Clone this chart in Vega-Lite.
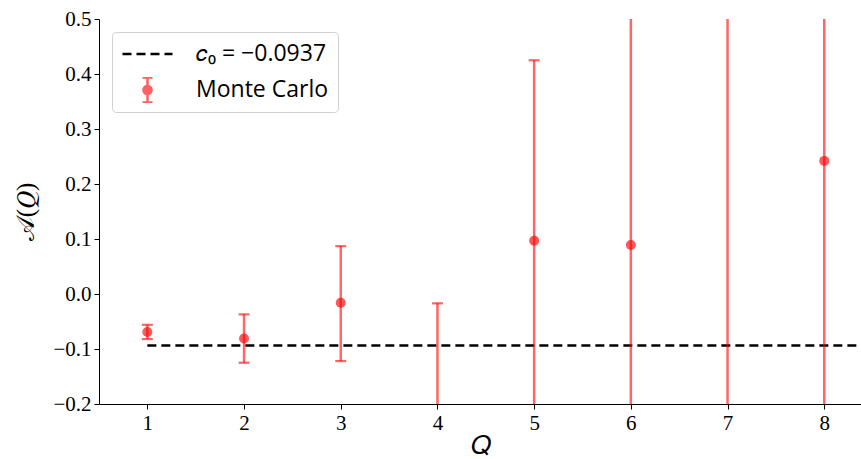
{
  "$schema": "https://vega.github.io/schema/vega-lite/v6.json",
  "width": 762,
  "height": 385,
  "autosize": "none",
  "padding": {"left": 99, "top": 19, "right": 0, "bottom": 55},
  "background": "white",
  "config": {
    "view": {"stroke": null},
    "axis": {
      "grid": false,
      "domainColor": "#000000",
      "domainWidth": 1,
      "tickColor": "#000000",
      "tickSize": 5,
      "tickWidth": 1,
      "labelFont": "Liberation Serif",
      "labelFontSize": 21,
      "labelColor": "#000000",
      "titleFont": "Liberation Serif",
      "titleFontSize": 26,
      "titleFontWeight": "normal",
      "titleColor": "#000000"
    }
  },
  "datasets": {
    "mc": [
      {"Q": 1, "A": -0.069, "lo": -0.082, "hi": -0.056, "series": "Monte Carlo"},
      {"Q": 2, "A": -0.081, "lo": -0.125, "hi": -0.037, "series": "Monte Carlo"},
      {"Q": 3, "A": -0.016, "lo": -0.122, "hi": 0.087, "series": "Monte Carlo"},
      {"Q": 4, "A": -0.25, "lo": -0.483, "hi": -0.017, "series": "Monte Carlo"},
      {"Q": 5, "A": 0.097, "lo": -0.231, "hi": 0.425, "series": "Monte Carlo"},
      {"Q": 6, "A": 0.089, "lo": -0.65, "hi": 0.83, "series": "Monte Carlo"},
      {"Q": 7, "A": 0.6, "lo": -0.4, "hi": 1.6, "series": "Monte Carlo"},
      {"Q": 8, "A": 0.242, "lo": -0.6, "hi": 1.08, "series": "Monte Carlo"}
    ],
    "ref": [{"Q": 1, "Q2": 9, "A": -0.0937, "series": "𝑐₀ = −0.0937"}]
  },
  "layer": [
    {
      "mark": {"type": "rule", "color": "#000000", "strokeWidth": 1},
      "encoding": {"y": {"datum": 0.5, "type": "quantitative"}}
    },
    {
      "data": {"name": "ref"},
      "mark": {"type": "rule", "color": "#000000", "strokeWidth": 2.5, "strokeDash": [9, 5], "clip": true},
      "encoding": {
        "x": {"field": "Q", "type": "quantitative", "scale": {"domain": [0.5, 8.38], "nice": false, "zero": false},
              "axis": {"values": [1, 2, 3, 4, 5, 6, 7, 8], "format": "d", "title": "𝑄", "labelPadding": 3, "titlePadding": -1}},
        "x2": {"field": "Q2"},
        "y": {"field": "A", "type": "quantitative", "scale": {"domain": [-0.2, 0.5], "nice": false, "zero": false},
              "axis": {"values": [-0.2, -0.1, 0, 0.1, 0.2, 0.3, 0.4, 0.5], "format": ".1f", "title": "𝒜(𝑄)", "titleFontSize": 25, "labelPadding": 3, "titlePadding": 14}}
      }
    },
    {
      "data": {"name": "mc"},
      "mark": {"type": "rule", "color": "#ff0000", "opacity": 0.6, "strokeWidth": 2.5, "clip": true},
      "encoding": {
        "x": {"field": "Q", "type": "quantitative"},
        "y": {"field": "lo", "type": "quantitative"},
        "y2": {"field": "hi"}
      }
    },
    {
      "data": {"name": "mc"},
      "mark": {"type": "tick", "orient": "horizontal", "color": "#ff0000", "opacity": 0.6, "size": 11, "thickness": 2.2, "clip": true},
      "encoding": {
        "x": {"field": "Q", "type": "quantitative"},
        "y": {"field": "hi", "type": "quantitative"}
      }
    },
    {
      "data": {"name": "mc"},
      "mark": {"type": "tick", "orient": "horizontal", "color": "#ff0000", "opacity": 0.6, "size": 11, "thickness": 2.2, "clip": true},
      "encoding": {
        "x": {"field": "Q", "type": "quantitative"},
        "y": {"field": "lo", "type": "quantitative"}
      }
    },
    {
      "data": {"name": "mc"},
      "mark": {"type": "point", "shape": "circle", "filled": true, "color": "#ff0000", "opacity": 0.65, "size": 100, "clip": true},
      "encoding": {
        "x": {"field": "Q", "type": "quantitative"},
        "y": {"field": "A", "type": "quantitative"}
      }
    },
    {
      "data": {"name": "ref"},
      "mark": {"type": "point", "filled": false, "opacity": 0, "strokeWidth": 2.5, "clip": true},
      "encoding": {
        "x": {"field": "Q", "type": "quantitative"},
        "y": {"field": "A", "type": "quantitative"},
        "color": {
          "field": "series", "type": "nominal",
          "scale": {"domain": ["𝑐₀ = −0.0937", "Monte Carlo"], "range": ["#000000", "#ff6060"]},
          "legend": {
            "title": null,
            "orient": "top-left",
            "offset": 13,
            "padding": 9,
            "symbolSize": 2500,
            "symbolOpacity": 1,
            "symbolStrokeWidth": 2.5,
            "clipHeight": 26,
            "rowPadding": 10,
            "labelOffset": 22,
            "labelFontSize": 23,
            "labelFont": "Open Sans",
            "labelColor": "#000000",
            "labelLimit": 400,
            "strokeColor": "#d0d0d0",
            "fillColor": "#ffffff",
            "cornerRadius": 4
          }
        },
        "shape": {
          "field": "series", "type": "nominal",
          "scale": {"domain": ["𝑐₀ = −0.0937", "Monte Carlo"],
                    "range": ["M-1,0H1", "M-0.2,-0.5H0.2M0,-0.5V0.5M-0.2,0.5H0.2M0.16,0A0.16,0.16,0,1,1,-0.16,0A0.16,0.16,0,1,1,0.16,0M0.1,0A0.1,0.1,0,1,1,-0.1,0A0.1,0.1,0,1,1,0.1,0M0.04,0A0.04,0.04,0,1,1,-0.04,0A0.04,0.04,0,1,1,0.04,0"]},
          "legend": {"title": null}
        },
        "strokeDash": {
          "field": "series", "type": "nominal",
          "scale": {"domain": ["𝑐₀ = −0.0937", "Monte Carlo"], "range": [[9, 5], [1, 0]]},
          "legend": {"title": null}
        }
      }
    }
  ]
}
